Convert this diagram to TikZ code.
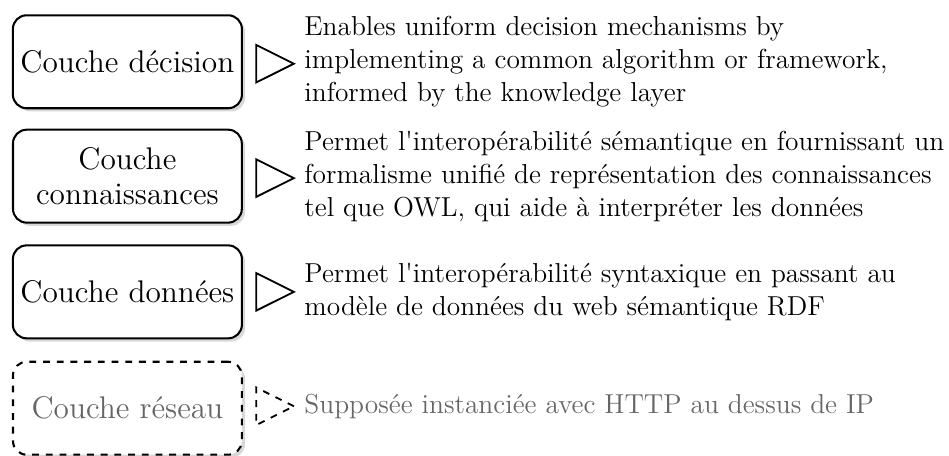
\documentclass[tikz,border=0pt]{standalone}
\usepackage{fontspec}
\usepackage{xcolor}
\usepackage{tikz}
\usetikzlibrary{shapes.geometric, shadows}

\newcommand{\apos}{\textquotesingle}

\begin{document}
\begin{tikzpicture}[
  layer/.style={rectangle, draw, line width=0.9pt, rounded corners=6pt,
                minimum width=3.52cm, minimum height=1.43cm, align=center,
                font=\fontsize{13.7}{15.2}\selectfont, fill=white,
                drop shadow={shadow xshift=1.4pt, shadow yshift=-1.4pt, fill=black!30}},
  ghost/.style={layer, dashed, text=black!60},
  tri/.style={isosceles triangle, isosceles triangle apex angle=53, draw,
              line width=0.8pt, minimum height=0.58cm, inner sep=0pt},
  desc/.style={anchor=west, align=left, font=\fontsize{12}{14.4}\selectfont}
]
\useasboundingbox (0,0) rectangle (14.6,-7.0);

%% ---- layers (left) ----
\node[layer] at (1.96,-0.95)  (dec)  {Couche décision};
\node[layer] at (1.96,-2.71)  (know) {Couche\\connaissances};
\node[layer] at (1.96,-4.49)  (data) {Couche données};
\node[ghost] at (1.96,-6.28)  (net)  {Couche réseau};

%% ---- triangles ----
\node[tri] at (4.12,-0.98) (tdec)  {};
\node[tri] at (4.12,-2.74) (tknow) {};
\node[tri] at (4.12,-4.49) (tdata) {};
\node[tri, dashed] at (4.12,-6.25) (tnet) {};

%% ---- descriptions ----
\node[desc] at (4.56,-0.95) (ddec)
  {Enables uniform decision mechanisms by\\
   implementing a common algorithm or framework,\\
   informed by the knowledge layer};
\node[desc] at (4.56,-2.72) (dknow)
  {Permet l\apos interopérabilité sémantique en fournissant un\\
   formalisme unifié de représentation des connaissances\\
   tel que OWL, qui aide à interpréter les données};
\node[desc] at (4.56,-4.49) (ddata)
  {Permet l\apos interopérabilité syntaxique en passant au\\
   modèle de données du web sémantique RDF};
\node[desc, text=black!60] at (4.56,-6.25) (dnet)
  {Supposée instanciée avec HTTP au dessus de IP};
\end{tikzpicture}
\end{document}
